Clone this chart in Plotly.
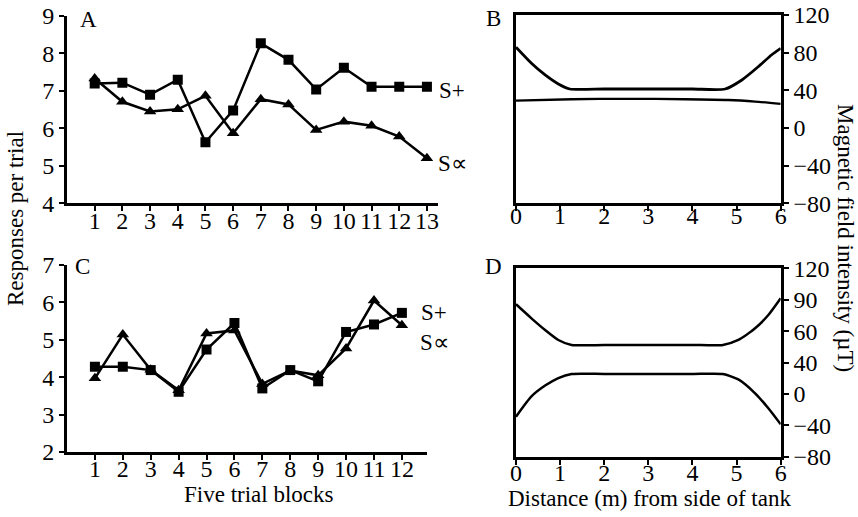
import plotly.graph_objects as go

W, H = 858, 517
FONT = "Liberation Serif"

# ---- Panel A data (responses per trial) ----
blocks_a = list(range(1, 14))
a_splus = [7.20, 7.22, 6.90, 7.30, 5.63, 6.48, 8.27, 7.83, 7.04, 7.62, 7.11, 7.11, 7.11]
a_sminus = [7.33, 6.71, 6.45, 6.51, 6.87, 5.87, 6.78, 6.64, 5.96, 6.18, 6.07, 5.78, 5.20]

# ---- Panel C data ----
blocks_c = list(range(1, 13))
c_splus = [4.28, 4.28, 4.19, 3.61, 4.74, 5.45, 3.70, 4.19, 3.89, 5.21, 5.41, 5.72]
c_sminus = [3.97, 5.14, 4.20, 3.65, 5.17, 5.25, 3.82, 4.18, 4.05, 4.77, 6.05, 5.39]

# ---- Panel B data (magnetic field, uT) ----
b_upper_x = [0, 0.35, 0.66, 0.96, 1.22, 2.0, 3.0, 4.0, 4.74, 5.12, 5.49, 5.79, 6.0]
b_upper_y = [85.7, 68.7, 56.3, 46.7, 41.4, 41.4, 41.4, 41.4, 41.4, 51.0, 65.0, 77.5, 84.6]
b_lower_x = [0, 1.26, 2.5, 3.83, 4.81, 5.42, 6.0]
b_lower_y = [29.0, 30.5, 31.0, 30.5, 29.7, 28.0, 25.5]

# ---- Panel D data (axis units; axis labels are non-uniform) ----
d_upper_x = [0, 0.35, 0.66, 0.96, 1.26, 2.0, 3.0, 4.0, 4.69, 5.04, 5.42, 5.72, 6.0]
d_upper_y = [81.8, 66.9, 54.5, 43.9, 38.6, 38.6, 38.6, 38.6, 38.6, 43.9, 56.3, 70.4, 88.2]
d_lower_x = [0, 0.35, 0.66, 0.96, 1.26, 2.0, 3.0, 4.0, 4.69, 5.04, 5.42, 5.72, 6.0]
d_lower_y = [-37.5, -16.0, -4.5, 3.5, 7.8, 7.8, 7.8, 7.8, 7.8, 2.0, -12.7, -28.6, -45.6]

b_ticks = [-80, -40, 0, 40, 80, 120]
b_ticktext = ["\u221280", "\u221240", "0", "40", "80", "120"]
d_tickvals = [-80, -46.667, -13.333, 20, 53.333, 86.667, 120]
d_ticktext = ["\u221280", "\u221240", "0", "40", "60", "90", "120"]
dist_ticks = [0, 1, 2, 3, 4, 5, 6]
resp_a_ticks = [4, 5, 6, 7, 8, 9]
resp_c_ticks = [2, 3, 4, 5, 6, 7]


def px(x):
    return x / W


def py(y):
    return 1 - y / H


fig = go.Figure()

line_w = 2.5
msq = dict(symbol="square", size=10, color="black")
mtri = dict(symbol="triangle-up", size=11, color="black")

fig.add_trace(go.Scatter(x=blocks_a, y=a_sminus, mode="lines+markers",
                         line=dict(color="black", width=line_w), marker=mtri,
                         xaxis="x", yaxis="y"))
fig.add_trace(go.Scatter(x=blocks_a, y=a_splus, mode="lines+markers",
                         line=dict(color="black", width=line_w), marker=msq,
                         xaxis="x", yaxis="y"))
fig.add_trace(go.Scatter(x=blocks_c, y=c_sminus, mode="lines+markers",
                         line=dict(color="black", width=line_w), marker=mtri,
                         xaxis="x3", yaxis="y3"))
fig.add_trace(go.Scatter(x=blocks_c, y=c_splus, mode="lines+markers",
                         line=dict(color="black", width=line_w), marker=msq,
                         xaxis="x3", yaxis="y3"))

fig.add_trace(go.Scatter(x=b_upper_x, y=b_upper_y, mode="lines",
                         line=dict(color="black", width=2.8, shape="spline", smoothing=0.6),
                         xaxis="x2", yaxis="y2"))
fig.add_trace(go.Scatter(x=b_lower_x, y=b_lower_y, mode="lines",
                         line=dict(color="black", width=2.3, shape="spline", smoothing=0.6),
                         xaxis="x2", yaxis="y2"))
fig.add_trace(go.Scatter(x=d_upper_x, y=d_upper_y, mode="lines",
                         line=dict(color="black", width=2.5, shape="spline", smoothing=0.6),
                         xaxis="x4", yaxis="y4"))
fig.add_trace(go.Scatter(x=d_lower_x, y=d_lower_y, mode="lines",
                         line=dict(color="black", width=2.5, shape="spline", smoothing=0.6),
                         xaxis="x4", yaxis="y4"))

tickfont = dict(family=FONT, size=24, color="black")
common = dict(showgrid=False, zeroline=False, showline=True, linecolor="black",
              linewidth=3, tickcolor="black", tickwidth=2, tickfont=tickfont,
              automargin=False)
# overlay axes that only draw the inner half of the crossing ticks
inner = dict(showgrid=False, zeroline=False, showline=False, showticklabels=False,
             ticks="inside", ticklen=4, tickcolor="black", tickwidth=2,
             automargin=False)

XA = [px(67), px(438)]
XC = [px(67), px(427)]
XR = [px(516), px(780.7)]
YA = [py(203.3), py(16)]
YC = [py(452), py(265)]
YB = [py(203.3), py(15)]
YD = [py(456.7), py(268.3)]

fig.update_layout(
    xaxis=dict(domain=XA, range=[0, 13.4], anchor="y",
               tickvals=blocks_a, ticks="outside", ticklen=5, ticklabelstandoff=-11,
               **common),
    yaxis=dict(domain=YA, range=[4, 9], anchor="x",
               tickvals=resp_a_ticks, ticks="outside", ticklen=5, **common),
    xaxis3=dict(domain=XC, range=[0, 12.9], anchor="y3",
                tickvals=list(range(1, 14)), ticktext=[str(i) for i in blocks_c] + [""],
                ticks="outside", ticklen=5, ticklabelstandoff=-12, **common),
    yaxis3=dict(domain=YC, range=[2, 7], anchor="x3",
                tickvals=resp_c_ticks, ticks="outside", ticklen=5, **common),
    xaxis2=dict(domain=XR, range=[0, 6], anchor="y2",
                tickvals=dist_ticks, ticks="outside", ticklen=5, mirror=True,
                ticklabelstandoff=-16, **common),
    yaxis2=dict(domain=YB, range=[-80, 120], anchor="x2", side="right",
                tickvals=b_ticks, ticktext=b_ticktext, ticks="outside", ticklen=5,
                mirror=True, **common),
    xaxis4=dict(domain=XR, range=[0, 6], anchor="y4",
                tickvals=dist_ticks, ticks="outside", ticklen=5, mirror=True,
                ticklabelstandoff=-13, **common),
    yaxis4=dict(domain=YD, range=[-80, 120], anchor="x4", side="right",
                tickvals=d_tickvals, ticktext=d_ticktext, ticks="outside", ticklen=5,
                mirror=True, **common),
    # inner tick halves
    xaxis5=dict(overlaying="x", anchor="y", side="bottom", range=[0, 13.4],
                tickvals=blocks_a, **inner),
    xaxis6=dict(overlaying="x3", anchor="y3", side="bottom", range=[0, 12.9],
                tickvals=list(range(1, 14)), **inner),
    xaxis7=dict(overlaying="x2", anchor="y2", side="bottom", range=[0, 6],
                tickvals=dist_ticks, **inner),
    xaxis8=dict(overlaying="x4", anchor="y4", side="bottom", range=[0, 6],
                tickvals=dist_ticks, **inner),
    yaxis5=dict(overlaying="y2", anchor="x2", side="right", range=[-80, 120],
                tickvals=b_ticks, **inner),
    yaxis6=dict(overlaying="y4", anchor="x4", side="right", range=[-80, 120],
                tickvals=d_tickvals, **inner),
)

ann_font = dict(family=FONT, size=23, color="black")
annotations = [
    dict(text="A", x=px(88), y=py(20)),
    dict(text="B", x=px(493), y=py(18)),
    dict(text="C", x=px(82), y=py(266)),
    dict(text="D", x=px(493), y=py(266)),
    dict(text="S+", x=px(452), y=py(90)),
    dict(text="S\u221d", x=px(452), y=py(163)),
    dict(text="S+", x=px(434), y=py(312)),
    dict(text="S\u221d", x=px(434), y=py(342)),
    dict(text="Five trial blocks", x=px(259), y=py(494)),
    dict(text="Distance (m) from side of tank", x=px(649), y=py(498)),
    dict(text="Responses per trial", x=px(15), y=py(219), textangle=-90),
    dict(text="Magnetic field intensity (\u00b5T)", x=px(846), y=py(238), textangle=90),
]
for a in annotations:
    a.update(xref="paper", yref="paper", showarrow=False, font=ann_font,
             xanchor="center", yanchor="middle")

fig.update_layout(
    annotations=annotations,
    width=W, height=H,
    margin=dict(l=0, r=0, t=0, b=0, autoexpand=False),
    paper_bgcolor="white", plot_bgcolor="white",
    showlegend=False,
    font=dict(family=FONT, color="black"),
)

fig.write_html("out.html",
               config={"displayModeBar": False},
               post_script="document.body.style.margin='0';"
                           "document.body.style.overflow='hidden';")
